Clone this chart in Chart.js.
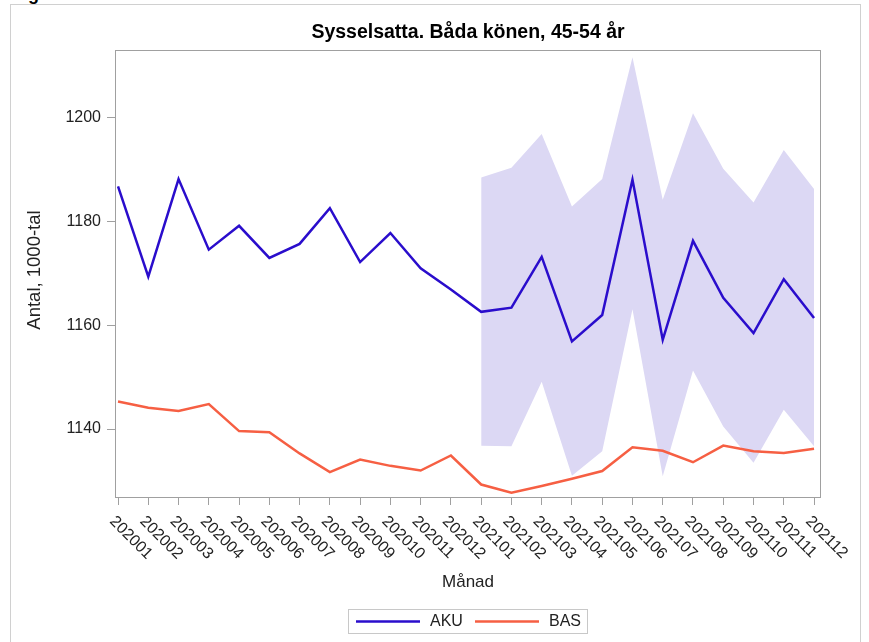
<!DOCTYPE html>
<html>
<head>
<meta charset="utf-8">
<script src="https://cdn.jsdelivr.net/npm/chart.js@4"></script>
<style>
  html, body { margin: 0; padding: 0; background: #fff; overflow: hidden; }
  #wrap { position: relative; width: 869px; height: 642px; overflow: hidden; }
  #frame { position: absolute; left: 10px; top: 4px; width: 849px; height: 700px; border: 1px solid #d0d0d0; }
  #cut { position: absolute; left: 28px; top: -16px; font: bold 18px "Liberation Sans", Arial, sans-serif; color: #000; }
  canvas { position: absolute; left: 0; top: 0; }
</style>
</head>
<body>
<div id="wrap">
  <div id="frame"></div>
  <div id="cut">g</div>
  <canvas id="chart" width="869" height="642"></canvas>
</div>
<script>
const titleText = 'Sysselsatta. Båda könen, 45-54 år'
const months = ['202001','202002','202003','202004','202005','202006','202007','202008','202009','202010','202011','202012',
                '202101','202102','202103','202104','202105','202106','202107','202108','202109','202110','202111','202112']
const aku = [1186.8, 1169.4, 1188.2, 1174.6, 1179.2, 1173.0, 1175.7, 1182.6, 1172.2, 1177.8, 1171.0, 1166.9,
             1162.6, 1163.4, 1173.2, 1156.9, 1162.0, 1188.1, 1157.2, 1176.3, 1165.3, 1158.5, 1168.9, 1161.4]
const bas = [1145.3, 1144.1, 1143.5, 1144.8, 1139.6, 1139.4, 1135.3, 1131.7, 1134.1, 1132.9, 1132.0, 1134.9,
             1129.3, 1127.7, 1129.0, 1130.4, 1131.9, 1136.5, 1135.8, 1133.6, 1136.8, 1135.7, 1135.4, 1136.2]
const akuHigh = [null, null, null, null, null, null, null, null, null, null, null, null,
                 1188.5, 1190.4, 1196.9, 1182.9, 1188.2, 1211.7, 1184.2, 1200.9, 1190.2, 1183.7, 1193.8, 1186.3]
const akuLow = [null, null, null, null, null, null, null, null, null, null, null, null,
                1136.8, 1136.7, 1149.1, 1131.0, 1135.7, 1163.1, 1130.9, 1151.3, 1140.5, 1133.5, 1143.7, 1136.7]
const yTicks = [1140, 1160, 1180, 1200]

const FONT = '"Liberation Sans", Arial, sans-serif'
const AKU_COLOR = '#2a0dcc'
const BAS_COLOR = '#f65f43'
const BAND_COLOR = '#dcd8f4'

const decor = {
  id: 'decor',
  afterDraw(chart) {
    const { ctx, chartArea: a, scales: { x } } = chart
    ctx.save()
    ctx.strokeStyle = '#a0a0a0'
    ctx.lineWidth = 1
    ctx.strokeRect(a.left + 0.5, a.top + 0.5, a.right - a.left - 1, a.bottom - a.top - 1)

    ctx.fillStyle = '#000'
    ctx.font = 'bold 19.5px ' + FONT
    ctx.textAlign = 'center'
    ctx.textBaseline = 'middle'
    ctx.fillText(titleText, (a.left + a.right) / 2, 33)

    // rotated month labels
    ctx.fillStyle = '#222'
    ctx.font = '16px ' + FONT
    ctx.textAlign = 'left'
    months.forEach((m, i) => {
      const px = x.getPixelForValue(i)
      ctx.save()
      ctx.translate(px - 6, a.bottom + 21)
      ctx.rotate(Math.PI / 4)
      ctx.fillText(m, 0, 0)
      ctx.restore()
    })

    ctx.font = '17px ' + FONT
    ctx.textAlign = 'center'
    ctx.fillText('Månad', (a.left + a.right) / 2, 582)
    ctx.save()
    ctx.font = '18.5px ' + FONT
    ctx.translate(35, 270)
    ctx.rotate(-Math.PI / 2)
    ctx.fillText('Antal, 1000-tal', 0, 0)
    ctx.restore()

    // legend
    ctx.strokeStyle = '#c8c8c8'
    ctx.strokeRect(348.5, 609.5, 239, 24)
    ctx.font = '16px ' + FONT
    ctx.textAlign = 'left'
    const items = chart.data.datasets.filter(d => !d.band)
    let lx = 356
    items.forEach(d => {
      ctx.strokeStyle = d.borderColor
      ctx.lineWidth = 2.5
      ctx.beginPath()
      ctx.moveTo(lx, 621.5)
      ctx.lineTo(lx + 64, 621.5)
      ctx.stroke()
      ctx.fillStyle = '#222'
      ctx.fillText(d.label, lx + 74, 622)
      lx += 119
    })
    ctx.restore()
  }
}

new Chart(document.getElementById('chart'), {
  type: 'line',
  data: {
    labels: months,
    datasets: [
      { label: 'AKU', data: aku.map((v, i) => ({ x: i, y: v })), borderColor: AKU_COLOR, borderWidth: 2.5, pointRadius: 0, fill: false, tension: 0 },
      { label: 'BAS', data: bas.map((v, i) => ({ x: i, y: v })), borderColor: BAS_COLOR, borderWidth: 2.5, pointRadius: 0, fill: false, tension: 0 },
      { label: 'hi', band: true, data: akuHigh.map((v, i) => ({ x: i, y: v })), borderWidth: 0, borderColor: 'rgba(0,0,0,0)', pointRadius: 0, backgroundColor: BAND_COLOR, fill: '+1', spanGaps: false },
      { label: 'lo', band: true, data: akuLow.map((v, i) => ({ x: i, y: v })), borderWidth: 0, borderColor: 'rgba(0,0,0,0)', pointRadius: 0, fill: false, spanGaps: false }
    ]
  },
  options: {
    responsive: false,
    animation: false,
    layout: { padding: { top: 50, right: 48, left: 0, bottom: 0 } },
    plugins: { legend: { display: false }, title: { display: false }, tooltip: { enabled: false } },
    scales: {
      x: {
        type: 'linear',
        min: -0.1,
        max: 23.23,
        afterBuildTicks: s => { s.ticks = months.map((_, i) => ({ value: i })) },
        afterFit: s => { s.height = 144 },
        ticks: { display: false },
        grid: { drawOnChartArea: false, drawTicks: true, tickLength: 7, color: '#a0a0a0' },
        border: { display: false }
      },
      y: {
        min: 1126.7,
        max: 1213.1,
        afterBuildTicks: s => { s.ticks = yTicks.map(v => ({ value: v })) },
        afterFit: s => { s.width = 115 },
        ticks: { color: '#222', font: { size: 16, family: FONT }, padding: 6, callback: v => String(v) },
        grid: { drawOnChartArea: false, drawTicks: true, tickLength: 8, color: '#a0a0a0' },
        border: { display: false }
      }
    }
  },
  plugins: [decor]
})
</script>
</body>
</html>
